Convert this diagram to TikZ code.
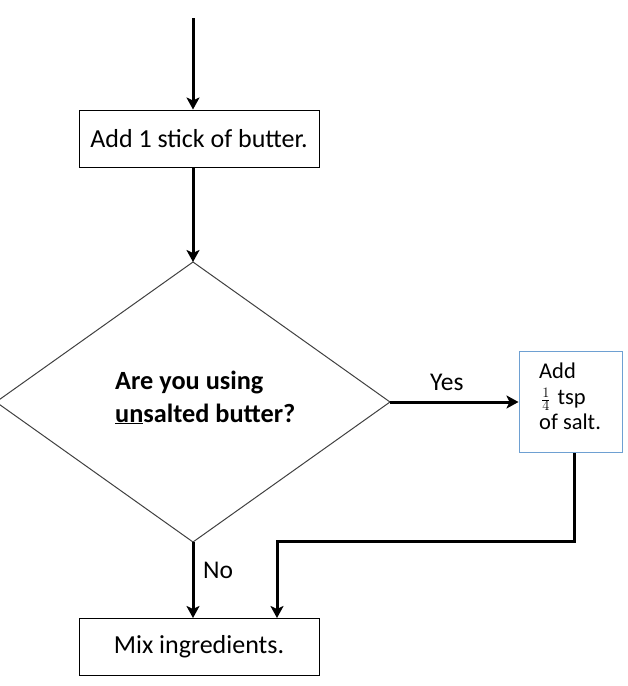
\documentclass[tikz,border=0pt]{standalone}
\usepackage{fontspec}
\setmainfont{Carlito}
\usetikzlibrary{arrows.meta}
\definecolor{saltblue}{RGB}{110,160,210}
\begin{document}
\begin{tikzpicture}[x=1pt,y=-1pt,
  box/.style={draw=black, line width=1pt, minimum width=240pt, minimum height=57pt, inner sep=0pt, font=\fontsize{26}{30}\selectfont},
  flow/.style={line width=3pt, -{Stealth[length=12pt,width=13pt,inset=3pt]}},
  lbl/.style={font=\fontsize{25.5}{30}\selectfont, inner sep=0pt, anchor=base west},
  qtext/.style={font=\bfseries\fontsize{26.3}{30}\selectfont, inner sep=0pt, anchor=base west},
  salttext/.style={font=\fontsize{22.5}{25.5}\selectfont, inner sep=0pt, align=left, anchor=north west}]
\useasboundingbox (0,0) rectangle (628,686);
\coordinate (start) at (193,18);
\node[box] (butter) at (199,138.5) {Add 1 stick of butter.};
\coordinate (dt) at (193,262);
\coordinate (dr) at (390,402);
\coordinate (db) at (193,542);
\coordinate (dl) at (-4,402);
\draw[line width=1pt, draw=black!75] (dt) -- (dr) -- (db) -- (dl) -- cycle;
\node[qtext] (q1) at (115,389) {Are you using};
\node[qtext] (q2) at (115,422) {\underline{un}salted butter?};
\node[draw=saltblue, line width=1pt, minimum width=103pt, minimum height=101pt, inner sep=0pt] (salt) at (570.5,402) {};
\node[salttext] (st) at (539,363) {Add\\\hspace{2pt}{\fontsize{19}{19}\selectfont$\frac{1}{4}$}\hspace{7pt}tsp\\of salt.};
\node[box] (mix) at (199,647) {Mix ingredients.};
\node[lbl] (yes) at (430,390) {Yes};
\node[lbl] (no) at (203,578) {No};
\coordinate (turn) at (574,541);
\coordinate (join) at (277,541);
\draw[flow] (start) -- (start |- butter.north);
\draw[flow] (start |- butter.south) -- (dt);
\draw[flow] (dr) -- (salt.west);
\draw[flow] (db) -- (db |- mix.north);
\draw[flow] (turn |- salt.south) -- (turn) -- (join) -- (join |- mix.north);
\end{tikzpicture}
\end{document}
